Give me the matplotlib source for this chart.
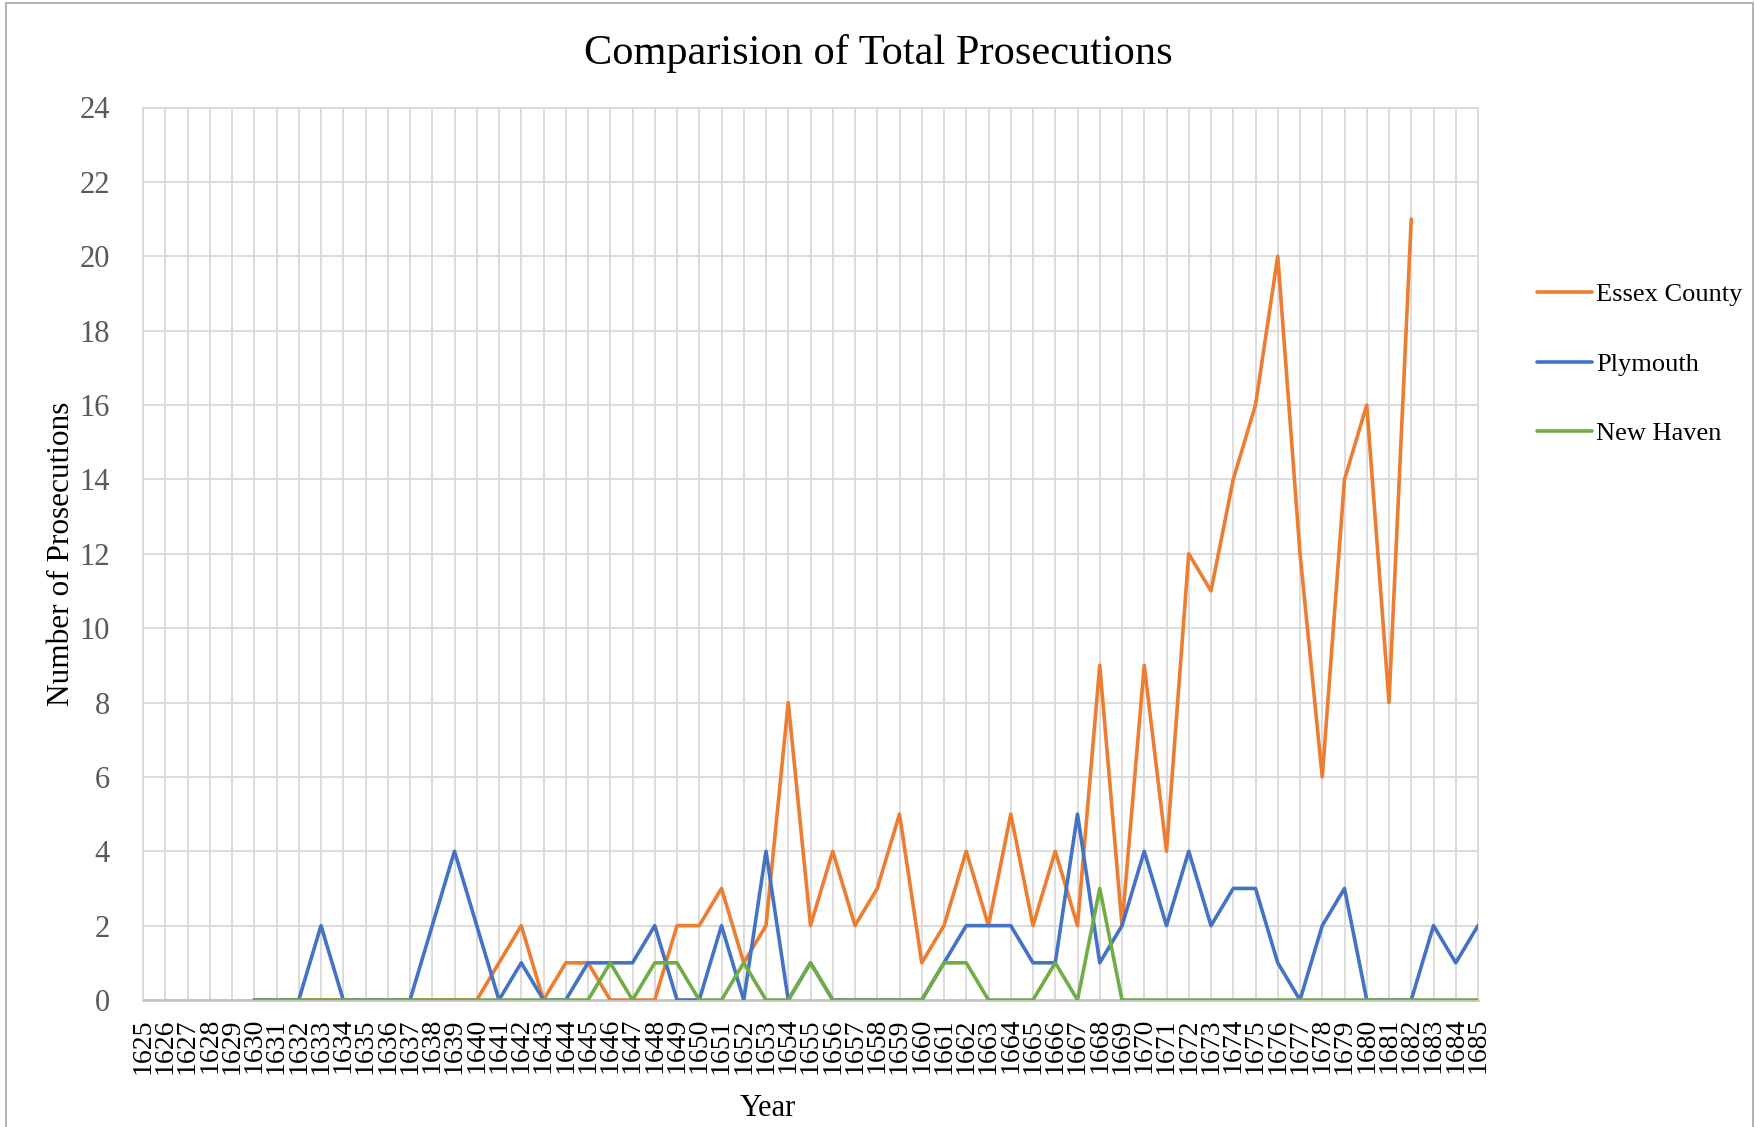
#!/usr/bin/env python3
"""
comparison of total prosecutions (essex county, plymouth, new haven)
excel-style line chart recreated in matplotlib
"""

import matplotlib
matplotlib.use('Agg')
import matplotlib.pyplot as plt
import matplotlib.patches as mpatches
import numpy as np

plt.rcParams['font.family'] = ['Liberation Serif', 'DejaVu Serif']

nan = np.nan

# categories: one per year, 1625-1685
years = list(range(1625, 1686))

# values per year (nan = no data)
essex = [nan, nan, nan, nan, nan,
         0, 0, 0, 0, 0, 0, 0, 0, 0, 0,      # 1630-1639
         0, 1, 2, 0, 1, 1, 0, 0, 0, 2,      # 1640-1649
         2, 3, 1, 2, 8, 2, 4, 2, 3, 5,      # 1650-1659
         1, 2, 4, 2, 5, 2, 4, 2, 9, 2,      # 1660-1669
         9, 4, 12, 11, 14, 16, 20, 12, 6, 14,  # 1670-1679
         16, 8, 21, nan, nan, nan]          # 1680-1685

plymouth = [nan, nan, nan, nan, nan,
            0, 0, 0, 2, 0, 0, 0, 0, 2, 4,   # 1630-1639
            2, 0, 1, 0, 0, 1, 1, 1, 2, 0,   # 1640-1649
            0, 2, 0, 4, 0, 1, 0, 0, 0, 0,   # 1650-1659
            0, 1, 2, 2, 2, 1, 1, 5, 1, 2,   # 1660-1669
            4, 2, 4, 2, 3, 3, 1, 0, 2, 3,   # 1670-1679
            0, 0, 0, 2, 1, 2]               # 1680-1685

new_haven = [nan, nan, nan, nan, nan,
             0, 0, 0, 0, 0, 0, 0, 0, 0, 0,  # 1630-1639
             0, 0, 0, 0, 0, 0, 1, 0, 1, 1,  # 1640-1649
             0, 0, 1, 0, 0, 1, 0, 0, 0, 0,  # 1650-1659
             0, 1, 1, 0, 0, 0, 1, 0, 3, 0,  # 1660-1669
             0, 0, 0, 0, 0, 0, 0, 0, 0, 0,  # 1670-1679
             0, 0, 0, 0, 0, 0]              # 1680-1685

series_names = ['Essex County', 'Plymouth', 'New Haven']
series_colors = ['#ED7D31', '#4472C4', '#70AD47']

W, H = 1756, 1127
fig = plt.figure(figsize=(W / 100, H / 100), dpi=100)

# plot area in pixel coordinates
left, right, top, bottom = 143, 1478, 107.5, 1000
ax = fig.add_axes([left / W, 1 - bottom / H, (right - left) / W, (bottom - top) / H])

for vals, name, col in zip([essex, plymouth, new_haven], series_names, series_colors):
    ax.plot(years, vals, color=col, linewidth=2.6, label=name,
            solid_joinstyle='round', solid_capstyle='round', zorder=3)

ax.set_xlim(years[0], years[-1])
ax.set_ylim(0, 24)
ax.set_yticks(np.arange(0, 25, 2))
ax.set_xticks(years)
ax.set_xticklabels([str(y) for y in years], rotation=90, fontsize=20, color='black')

ax.tick_params(axis='y', length=0, pad=24, labelsize=22, labelcolor='#595959')
ax.tick_params(axis='x', length=0, pad=13)

ax.grid(True, color='#D9D9D9', linewidth=1.3, zorder=0)
ax.set_axisbelow(True)
for side in ['left', 'top', 'right']:
    ax.spines[side].set_color('#D9D9D9')
    ax.spines[side].set_linewidth(1.3)
ax.spines['bottom'].set_color('#BFBFBF')
ax.spines['bottom'].set_linewidth(1.8)
ax.spines['bottom'].set_zorder(1)

# titles
fig.text(0.5, 1 - 53.5 / H, 'Comparision of Total Prosecutions',
         ha='center', va='center', fontsize=30.5, color='black')
fig.text(62 / W, 1 - 554 / H, 'Number of Prosecutions', rotation=90,
         ha='center', va='center', fontsize=22.5, color='black')
fig.text(768 / W, 1 - 1108 / H, 'Year', ha='center', va='center',
         fontsize=22, color='black')

# legend on the right
fig.legend(loc='center left', bbox_to_anchor=(1537 / W, 1 - 364 / H),
           bbox_transform=fig.transFigure, frameon=False, fontsize=19,
           handlelength=2.1, handletextpad=0.15, labelspacing=1.75,
           borderpad=0, borderaxespad=0)

# chart border
fig.patches.append(mpatches.Rectangle((6 / W, -0.01), (1753 - 6) / W, 1.01 - 3 / H,
                                      transform=fig.transFigure, fill=False,
                                      edgecolor='#A6A6A6', linewidth=1.2))

plt.savefig('out.png', dpi=100)
plt.close()
